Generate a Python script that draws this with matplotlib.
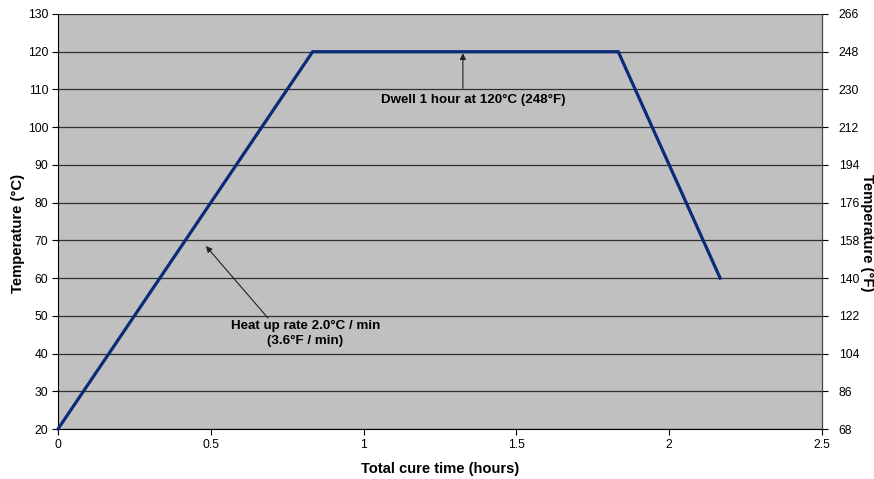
import matplotlib
matplotlib.use("Agg")
import matplotlib.pyplot as plt
from matplotlib import font_manager as fm

plt.rcParams["font.family"] = ["Liberation Sans", "DejaVu Sans"]


def _font(weight):
    # éviter la variante "Narrow"
    for f in fm.fontManager.ttflist:
        if f.name == "Liberation Sans" and f.style == "normal" and f.weight == weight:
            return fm.FontProperties(fname=f.fname)
    return fm.FontProperties(family="Liberation Sans", weight=weight)


REG = _font(400)
BOLD = _font(700)

# Profil de cuisson
time_h = [0, 0.8333, 1.8333, 2.1667]
temp_c = [20, 120, 120, 60]

c_ticks = list(range(20, 131, 10))
f_ticks = list(range(68, 267, 18))
x_ticks = [0, 0.5, 1, 1.5, 2, 2.5]
x_labels = ["0", "0.5", "1", "1.5", "2", "2.5"]

fig = plt.figure(figsize=(8.74, 4.79), dpi=100)
ax = fig.add_axes([58 / 874, 1 - 429 / 479, 764 / 874, 415 / 479])
ax.set_facecolor("#c0c0c0")

ax.plot(time_h, temp_c, color="#0b2a78", linewidth=2.3, solid_joinstyle="miter", zorder=4, clip_on=False)

ax.set_xlim(0, 2.5)
ax.set_ylim(20, 130)
ax.set_xticks(x_ticks)
ax.set_xticklabels(x_labels)
ax.set_yticks(c_ticks)
ax.yaxis.grid(True, color="#303030", linewidth=0.9)
ax.set_axisbelow(True)
ax.tick_params(axis="both", direction="out", length=4, width=0.8, colors="#000000", pad=3)
for lab in ax.get_xticklabels() + ax.get_yticklabels():
    lab.set_fontproperties(REG)
    lab.set_fontsize(8.7)

ax.spines["top"].set_visible(False)
ax.spines["right"].set_color("#444444")

ax.set_xlabel("Total cure time (hours)", fontproperties=BOLD, fontsize=10.6)
ax.xaxis.set_label_coords(0.5, -0.080)
ax.set_ylabel("Temperature (°C)", fontproperties=BOLD, fontsize=10.7, va="center")
ax.yaxis.set_label_coords(-0.0524, 0.472)

ax2 = ax.twinx()
ax2.set_ylim(68, 266)
ax2.set_yticks(f_ticks)
ax2.tick_params(axis="y", direction="out", length=4, width=0.8, pad=8)
for lab in ax2.get_yticklabels():
    lab.set_fontproperties(REG)
    lab.set_fontsize(8.7)
for s in ["top", "left", "bottom"]:
    ax2.spines[s].set_visible(False)
ax2.spines["right"].set_color("#444444")
ax2.set_ylabel("Temperature (°F)", fontproperties=BOLD, fontsize=10.7, rotation=270, va="center")
ax2.yaxis.set_label_coords(1.0595, 0.472)

# Annotations
arrow = dict(arrowstyle="-|>", color="#222222", lw=0.8, mutation_scale=9, shrinkA=0, shrinkB=0)
ax.text(0.81, 45.4, "Heat up rate 2.0°C / min\n(3.6°F / min)", fontproperties=BOLD, fontsize=9.6,
        ha="center", va="center", linespacing=1.35, zorder=6)
ax.annotate("", xy=(0.484, 68.5), xytext=(0.687, 49.4), arrowprops=arrow, zorder=6)
ax.text(1.358, 107.2, "Dwell 1 hour at 120°C (248°F)", fontproperties=BOLD, fontsize=9.6,
        ha="center", va="center", zorder=6)
ax.annotate("", xy=(1.325, 119.6), xytext=(1.325, 110.3), arrowprops=arrow, zorder=6)

fig.savefig("out.png", dpi=100)
